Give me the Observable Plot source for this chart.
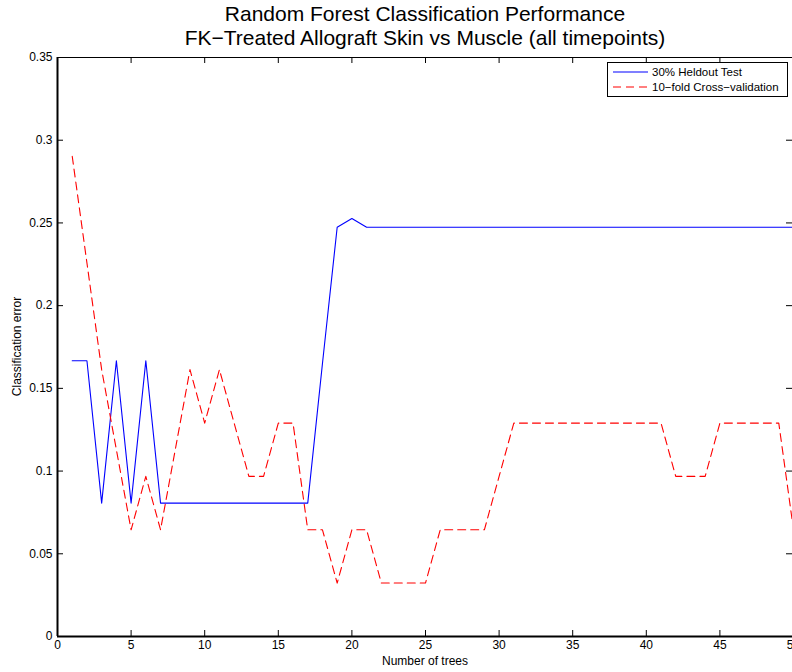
<!DOCTYPE html>
<html>
<head>
<meta charset="utf-8">
<script src="https://cdn.jsdelivr.net/npm/d3@7"></script>
<script src="https://cdn.jsdelivr.net/npm/@observablehq/plot@0.6"></script>
<style>
  html, body { margin: 0; padding: 0; background: white; overflow: hidden; }
  #chart { width: 792px; height: 672px; overflow: hidden; }
</style>
</head>
<body>
<div id="chart"></div>
<script>
// Number of trees in the forest (x values)
const trees = [
  1, 2, 3, 4, 5, 6, 7, 8, 9, 10,
  11, 12, 13, 14, 15, 16, 17, 18, 19, 20,
  21, 22, 23, 24, 25, 26, 27, 28, 29, 30,
  31, 32, 33, 34, 35, 36, 37, 38, 39, 40,
  41, 42, 43, 44, 45, 46, 47, 48, 49, 50
];

// Error on the 30% held-out test set
const heldoutError = [
  0.1667, 0.1667, 0.0806, 0.1667, 0.0806, 0.1667, 0.0806, 0.0806, 0.0806, 0.0806,
  0.0806, 0.0806, 0.0806, 0.0806, 0.0806, 0.0806, 0.0806, 0.1650, 0.2474, 0.2527,
  0.2474, 0.2474, 0.2474, 0.2474, 0.2474, 0.2474, 0.2474, 0.2474, 0.2474, 0.2474,
  0.2474, 0.2474, 0.2474, 0.2474, 0.2474, 0.2474, 0.2474, 0.2474, 0.2474, 0.2474,
  0.2474, 0.2474, 0.2474, 0.2474, 0.2474, 0.2474, 0.2474, 0.2474, 0.2474, 0.2474
];

// Error from 10-fold cross-validation
const cvError = [
  0.2903, 0.2258, 0.1613, 0.1129, 0.0645, 0.0968, 0.0645, 0.1129, 0.1613, 0.1290,
  0.1613, 0.1290, 0.0968, 0.0968, 0.1290, 0.1290, 0.0645, 0.0645, 0.0323, 0.0645,
  0.0645, 0.0323, 0.0323, 0.0323, 0.0323, 0.0645, 0.0645, 0.0645, 0.0645, 0.0968,
  0.1290, 0.1290, 0.1290, 0.1290, 0.1290, 0.1290, 0.1290, 0.1290, 0.1290, 0.1290,
  0.1290, 0.0968, 0.0968, 0.0968, 0.1290, 0.1290, 0.1290, 0.1290, 0.1290, 0.0645
];

const xTicks = [0, 5, 10, 15, 20, 25, 30, 35, 40, 45, 50];
const yTicks = [0, 0.05, 0.1, 0.15, 0.2, 0.25, 0.3, 0.35];

const seriesNames = ["30% Heldout Test", "10\u2212fold Cross\u2212validation"];
const titleLines = [
  "Random Forest Classification Performance",
  "FK\u2212Treated Allograft Skin vs Muscle (all timepoints)"
];
const xLabel = "Number of trees";
const yLabel = "Classification error";

const heldout = trees.map((t, i) => ({trees: t, error: heldoutError[i]}));
const cv = trees.map((t, i) => ({trees: t, error: cvError[i]}));

const W = 792, H = 672;
const mTop = 57, mBottom = 36, mLeft = 57;
const axRight = 793;             // right edge of the axes box (just past the page)
const frameH = H - mTop - mBottom;
const frameW = W - mLeft;
const tick = 6;
const font = "'Liberation Sans', Arial, Helvetica, sans-serif";

const chart = Plot.plot({
  width: W,
  height: H,
  marginTop: mTop,
  marginBottom: mBottom,
  marginLeft: mLeft,
  marginRight: 0,
  style: {fontFamily: font, fontSize: "12px", background: "white", color: "black"},
  x: {domain: [0, 50], range: [mLeft, axRight]},
  y: {domain: [0, 0.35]},
  marks: [
    Plot.line(heldout, {x: "trees", y: "error", stroke: "#0000ff", strokeWidth: 1.1}),
    Plot.line(cv, {x: "trees", y: "error", stroke: "#ff0000", strokeWidth: 1.1, strokeDasharray: "8,5"}),
    // inward ticks on all four sides of the box
    Plot.ruleX(xTicks, {x: d => d, insetTop: frameH - tick, stroke: "black"}),
    Plot.ruleX(xTicks, {x: d => d, insetBottom: frameH - tick, stroke: "black"}),
    Plot.ruleY(yTicks, {y: d => d, insetRight: frameW - tick, stroke: "black"}),
    Plot.ruleY(yTicks, {y: d => d, insetLeft: frameW - tick, stroke: "black"}),
    // box edges
    Plot.ruleY([0.35], {stroke: "black", strokeWidth: 1.2}),
    Plot.ruleY([0], {stroke: "black", strokeWidth: 2}),
    Plot.ruleX([0], {stroke: "black", strokeWidth: 2}),
    Plot.axisX({ticks: xTicks, tickSize: 0, tickPadding: 4, label: null, fontSize: 12}),
    Plot.axisY({ticks: yTicks, tickSize: 0, tickPadding: 5, label: null, fontSize: 12,
                tickFormat: d => String(+d.toFixed(2))})
  ]
});

document.getElementById("chart").appendChild(chart);

const svg = d3.select(chart);
const cx = (mLeft + axRight) / 2;

// Two-line title
svg.append("g")
  .attr("font-family", font)
  .attr("font-size", 21)
  .attr("text-anchor", "middle")
  .attr("fill", "black")
  .selectAll("text")
  .data(titleLines)
  .join("text")
  .attr("x", cx)
  .attr("y", (d, i) => 21 + i * 24)
  .text(d => d);

// Axis labels
svg.append("text")
  .attr("font-family", font).attr("font-size", 12).attr("text-anchor", "middle")
  .attr("x", cx).attr("y", 665).text(xLabel);

svg.append("text")
  .attr("font-family", font).attr("font-size", 12).attr("text-anchor", "middle")
  .attr("transform", `translate(21,${(mTop + H - mBottom) / 2}) rotate(-90)`)
  .text(yLabel);

// Legend box in the upper right corner
const lg = svg.append("g")
  .attr("font-family", font)
  .attr("font-size", 11.5)
  .attr("text-anchor", "start");
lg.append("rect")
  .attr("x", 607.5).attr("y", 62.5).attr("width", 180).attr("height", 34)
  .attr("fill", "white").attr("stroke", "black").attr("stroke-width", 1);
const legendStyles = [
  {stroke: "#0000ff", dash: null},
  {stroke: "#ff0000", dash: "8,5"}
];
seriesNames.forEach((name, i) => {
  const y = 72 + i * 15;
  lg.append("line")
    .attr("x1", 613).attr("x2", 648).attr("y1", y).attr("y2", y)
    .attr("stroke", legendStyles[i].stroke).attr("stroke-width", 1.1)
    .attr("stroke-dasharray", legendStyles[i].dash);
  lg.append("text")
    .attr("x", 652).attr("y", y).attr("dy", "0.35em").attr("fill", "black")
    .attr("text-anchor", "start")
    .text(name);
});
</script>
</body>
</html>
